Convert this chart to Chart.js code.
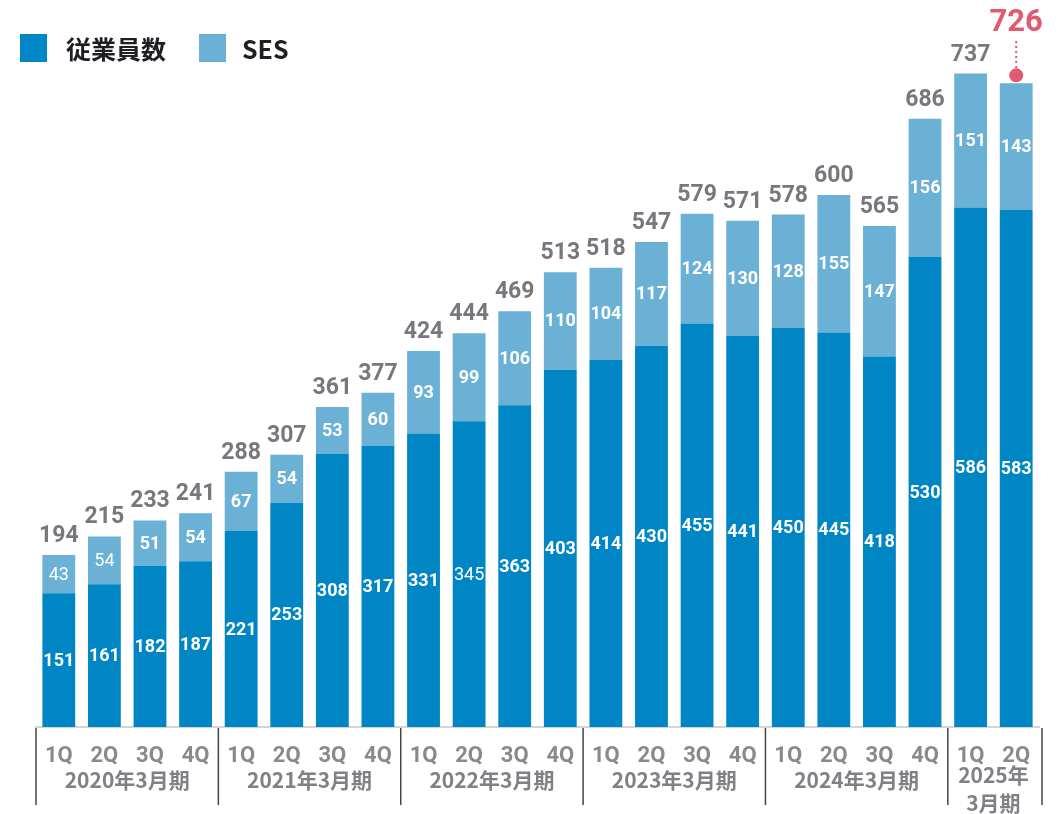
<!DOCTYPE html>
<html>
<head>
<meta charset="utf-8">
<script src="https://cdn.jsdelivr.net/npm/chart.js@4.4.1/dist/chart.umd.min.js"></script>
<style>
  body { margin:0; background:#fff; }
  #wrap { position:relative; width:1058px; height:814px; }
  .legend { position:absolute; top:30px; left:20px; display:flex; align-items:center;
    font-family:"Noto Sans CJK JP", sans-serif; font-weight:700; font-size:25px; color:#1e1e24; }
  .sw { width:27px; height:28px; display:inline-block; margin-right:19px; }
</style>
</head>
<body>
<div id="wrap">
  <canvas id="myChart"></canvas>
  <div class="legend">
    <span class="sw" style="background:#0086c5"></span><span style="margin-right:33px">従業員数</span>
    <span class="sw" style="background:#6ab1d5;margin-right:16px"></span><span>SES</span>
  </div>
</div>
<script>
var quarters = ['1Q','2Q','3Q','4Q','1Q','2Q','3Q','4Q','1Q','2Q','3Q','4Q','1Q','2Q','3Q','4Q','1Q','2Q','3Q','4Q','1Q','2Q'];
var employees = [151,161,182,187,221,253,308,317,331,345,363,403,414,430,455,441,450,445,418,530,586,583];
var ses = [43,54,51,54,67,54,53,60,93,99,106,110,104,117,124,130,128,155,147,156,151,143];
var totals = [194,215,233,241,288,307,361,377,424,444,469,513,518,547,579,571,578,600,565,686,737,726];
var groups = [['2020年3月期'],['2021年3月期'],['2022年3月期'],['2023年3月期'],['2024年3月期'],['2025年','3月期']];
var groupSizes = [4,4,4,4,4,2];

var numFont = 'Roboto, sans-serif';
var lightEmp = [9];   // 345 is drawn thinner in the original
var lightSes = [0,1]; // 43, 54

var labelPlugin = {
  id: 'labels',
  afterDatasetsDraw: function(chart) {
    var ctx = chart.ctx;
    var m0 = chart.getDatasetMeta(0), m1 = chart.getDatasetMeta(1);
    ctx.save();
    ctx.textAlign = 'center';
    ctx.textBaseline = 'middle';
    ctx.fillStyle = '#fff';
    for (var i = 0; i < totals.length; i++) {
      var b0 = m0.data[i], b1 = m1.data[i];
      ctx.font = (lightEmp.indexOf(i) >= 0 ? '400 ' : '700 ') + '18px ' + numFont;
      ctx.fillText(employees[i], b0.x, (b0.y + b0.base) / 2 + 1);
      ctx.font = (lightSes.indexOf(i) >= 0 ? '400 ' : '700 ') + '18px ' + numFont;
      ctx.fillText(ses[i], b1.x, (b1.y + b1.base) / 2 + 1);
    }
    // totals
    ctx.textBaseline = 'alphabetic';
    for (var i = 0; i < totals.length; i++) {
      var b1 = m1.data[i];
      if (i == totals.length - 1) {
        ctx.fillStyle = '#e05a70';
        ctx.font = '700 31px ' + numFont;
        ctx.fillText(totals[i], b1.x, 31);
        ctx.strokeStyle = '#e05a70';
        ctx.lineWidth = 2;
        ctx.setLineDash([2, 3]);
        ctx.beginPath();
        ctx.moveTo(b1.x, 41);
        ctx.lineTo(b1.x, b1.y - 8);
        ctx.stroke();
        ctx.setLineDash([]);
        ctx.beginPath();
        ctx.arc(b1.x, b1.y - 8, 7, 0, Math.PI * 2);
        ctx.fill();
      } else {
        ctx.fillStyle = '#77777d';
        ctx.font = '700 23px ' + numFont;
        ctx.fillText(totals[i], b1.x, b1.y - 13);
      }
    }
    // year groups + separators
    var xs = chart.scales.x;
    var step = xs.getPixelForValue(1) - xs.getPixelForValue(0);
    var base = chart.chartArea.bottom;
    var idx = 0;
    ctx.strokeStyle = '#444';
    ctx.lineWidth = 1.5;
    ctx.fillStyle = '#808086';
    ctx.font = '700 21px "Noto Sans CJK JP", sans-serif';
    for (var g = 0; g < groups.length; g++) {
      var left = xs.getPixelForValue(idx) - step / 2;
      var right = xs.getPixelForValue(idx + groupSizes[g] - 1) + step / 2;
      ctx.beginPath();
      ctx.moveTo(left, base + 1);
      ctx.lineTo(left, base + 78);
      ctx.stroke();
      var cx = (left + right) / 2;
      if (groups[g].length == 1) {
        ctx.fillText(groups[g][0], cx, base + 61);
      } else {
        ctx.fillText(groups[g][0], cx, base + 56);
        ctx.fillText(groups[g][1], cx, base + 84);
      }
      if (g == groups.length - 1) {
        ctx.beginPath();
        ctx.moveTo(right + 3, base + 1);
        ctx.lineTo(right + 3, base + 78);
        ctx.stroke();
      }
      idx += groupSizes[g];
    }
    ctx.restore();
  }
};

var chart = new Chart(document.getElementById('myChart'), {
  type: 'bar',
  data: {
    labels: quarters,
    datasets: [
      { label: '従業員数', data: employees, backgroundColor: '#0086c5', barPercentage: 0.72, categoryPercentage: 1 },
      { label: 'SES', data: ses, backgroundColor: '#6ab1d5', barPercentage: 0.72, categoryPercentage: 1 }
    ]
  },
  options: {
    responsive: true,
    maintainAspectRatio: false,
    animation: false,
    layout: { padding: { left: 36, right: 19, top: 0, bottom: 0 } },
    plugins: { legend: { display: false }, tooltip: { enabled: false } },
    scales: {
      x: {
        stacked: true,
        grid: { display: false },
        border: { color: '#d4d4d4', width: 2 },
        ticks: { color: '#8a8a8e', font: { family: 'Roboto', weight: '700', size: 22 }, padding: 8, maxRotation: 0, autoSkip: false },
        afterFit: function(s) { s.height = 87; }
      },
      y: { stacked: true, display: false, min: 0, max: 820 }
    }
  },
  plugins: [labelPlugin]
});
</script>
</body>
</html>
